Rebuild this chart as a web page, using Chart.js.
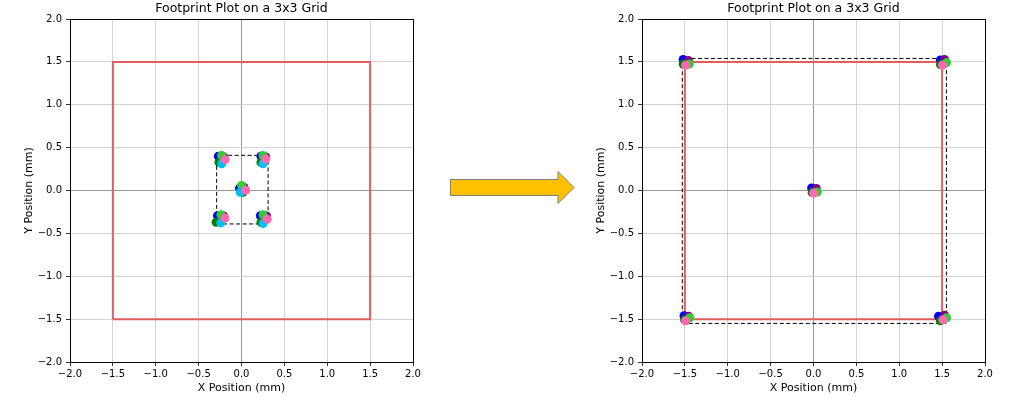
<!DOCTYPE html>
<html>
<head>
<meta charset="utf-8">
<script src="https://cdn.jsdelivr.net/npm/chart.js@4/dist/chart.umd.min.js"></script>
<style>
html,body{margin:0;padding:0;background:#fff;}
body{width:1024px;height:396px;position:relative;overflow:hidden;}
.box{position:absolute;top:0;height:396px;}
#b1{left:0;width:440px;}
#b2{left:572px;width:452px;}
#arrow{position:absolute;left:0;top:0;}
</style>
</head>
<body>
<div class="box" id="b1"><canvas id="c1"></canvas></div>
<div class="box" id="b2"><canvas id="c2"></canvas></div>
<svg id="arrow" width="1024" height="396" style="pointer-events:none">
  <polygon points="450.5,179.5 558,179.5 558,171.5 574,187.5 558,203.5 558,195.5 450.5,195.5" fill="#ffc000" stroke="#7f7f7f" stroke-width="1"/>
</svg>
<script>
// ---- data ----
const chartTitle = "Footprint Plot on a 3x3 Grid";
const xLabel = "X Position (mm)";
const yLabel = "Y Position (mm)";
const tickValues = [-2.0, -1.5, -1.0, -0.5, 0.0, 0.5, 1.0, 1.5, 2.0];

// outline square (red) - same on both plots
const squareX = [-1.5, 1.5, 1.5, -1.5, -1.5];
const squareY = [-1.5, -1.5, 1.5, 1.5, -1.5];

// dashed bounding boxes
const dashLeftX = [-0.29, 0.31, 0.31, -0.29, -0.29];
const dashLeftY = [-0.39, -0.39, 0.41, 0.41, -0.39];
const dashRightX = [-1.53, 1.55, 1.55, -1.53, -1.53];
const dashRightY = [-1.55, -1.55, 1.54, 1.54, -1.55];

// footprint dots, left plot (TL, TR, C, BL, BR)
const blueLX   = [-0.270, 0.227, -0.023, -0.280, 0.220];
const blueLY   = [0.400, 0.400, 0.027, -0.294, -0.294];
const purpleLX = [-0.207, 0.283, 0.029, -0.208, 0.292];
const purpleLY = [0.392, 0.392, 0.035, -0.298, -0.298];
const dgreenLX = [-0.263, 0.227, 0.017, -0.296, 0.228];
const dgreenLY = [0.328, 0.328, -0.021, -0.370, -0.370];
const greenLX  = [-0.231, 0.251, 0.001, -0.240, 0.252];
const greenLY  = [0.408, 0.408, 0.059, -0.282, -0.282];
const cyanLX   = [-0.231, 0.251, -0.015, -0.240, 0.252];
const cyanLY   = [0.312, 0.312, -0.021, -0.378, -0.386];
const pinkLX   = [-0.191, 0.283, 0.049, -0.192, 0.300];
const pinkLY   = [0.360, 0.368, 0.003, -0.322, -0.334];

// footprint dots, right plot (TL, TR, C, BL, BR)
const blueRX   = [-1.520, 1.480, -0.022, -1.510, 1.458];
const blueRY   = [1.528, 1.522, 0.030, -1.460, -1.466];
const purpleRX = [-1.460, 1.528, 0.032, -1.456, 1.528];
const purpleRY = [1.516, 1.528, 0.024, -1.466, -1.454];
const dgreenRX = [-1.520, 1.480, -0.016, -1.504, 1.480];
const dgreenRY = [1.474, 1.468, -0.024, -1.508, -1.520];
const greenRX  = [-1.448, 1.552, 0.044, -1.444, 1.552];
const greenRY  = [1.474, 1.492, -0.018, -1.484, -1.484];
const cyanRX   = [-1.490, 1.504, 0.002, -1.492, 1.510];
const cyanRY   = [1.470, 1.470, -0.026, -1.514, -1.504];
const pinkRX   = [-1.490, 1.504, 0.002, -1.492, 1.510];
const pinkRY   = [1.462, 1.462, -0.030, -1.520, -1.508];

// ---- helpers ----
const FONT = "'DejaVu Sans', sans-serif";
function pts(xs, ys){ return xs.map((x,i)=>({x:x, y:ys[i]})); }
function dots(xs, ys, color, order){
  return {type:'scatter', data:pts(xs,ys), backgroundColor:color, borderWidth:0,
          pointRadius:4.5, pointHoverRadius:4.5, order:order};
}
function lineDs(xs, ys, color, width, dash, order){
  return {type:'line', data:pts(xs,ys), borderColor:color, borderWidth:width, borderDash:dash,
          pointRadius:0, fill:false, tension:0, showLine:true, order:order};
}
function gridColor(ctx){
  const v = ctx.tick ? ctx.tick.value : null;
  if (v === null) return '#b0b0b0';
  if (Math.abs(v) > 1.99) return '#000000';
  if (Math.abs(v) < 1e-9) return '#808080';
  return '#c8c8c8';
}
function scaleOpts(isX){
  return {
    type:'linear', min:-2, max:2,
    afterBuildTicks: (s)=>{ s.ticks = tickValues.map(v=>({value:v})); },
    afterFit: (s)=>{ if (isX) s.height = 34; else s.width = 70; },
    ticks:{ autoSkip:false, color:'#000', font:{family:FONT, size:10},
            padding: isX ? 2 : 4,
            callback:(v)=> (v<0 ? '\u2212' : '') + Math.abs(v).toFixed(1) },
    grid:{ color:gridColor, lineWidth:(ctx)=> (ctx.tick && Math.abs(ctx.tick.value)>1.99) ? 1 : 0.8,
           tickColor:'#000', tickLength:4, tickWidth:0.8, drawTicks:true },
    border:{ display:true, color:'#000', width:1 },
    title:{ display:true, text: isX ? xLabel : yLabel, color:'#000',
            font:{family:FONT, size:11},
            padding: isX ? {top:0, bottom:1.5} : {top:23, bottom:0} }
  };
}
// title centred over the plot area
const plotTitle = {
  id:'plotTitle',
  afterDraw(chart){
    const {ctx, chartArea} = chart;
    ctx.save();
    ctx.font = "12.5px " + FONT;
    ctx.fillStyle = '#000';
    ctx.textAlign = 'center';
    ctx.textBaseline = 'middle';
    ctx.fillText(chartTitle, (chartArea.left + chartArea.right)/2, 8.5);
    ctx.restore();
  }
};
function makeChart(id, datasets, padRight){
  return new Chart(document.getElementById(id), {
    data:{ datasets:datasets },
    plugins:[plotTitle],
    options:{
      responsive:true, maintainAspectRatio:false, animation:false,
      layout:{ padding:{left:0, right:padRight, top:19, bottom:0} },
      plugins:{ legend:{display:false}, tooltip:{enabled:false}, title:{display:false} },
      scales:{ x:scaleOpts(true), y:scaleOpts(false) }
    }
  });
}

makeChart('c1', [
  lineDs(squareX, squareY, '#e35d60', 2, [], 20),
  lineDs(dashLeftX, dashLeftY, '#000', 1, [4,2.5], 19),
  dots(blueLX, blueLY, '#0000ff', 6),
  dots(purpleLX, purpleLY, '#800080', 5),
  dots(dgreenLX, dgreenLY, '#008000', 4),
  dots(greenLX, greenLY, '#33cc33', 3),
  dots(cyanLX, cyanLY, '#00c0f0', 2),
  dots(pinkLX, pinkLY, '#ff69b4', 1)
], 27);

makeChart('c2', [
  lineDs(squareX, squareY, '#e35d60', 2, [], 20),
  lineDs(dashRightX, dashRightY, '#000', 1, [4,2.5], 19),
  dots(cyanRX, cyanRY, '#00c0f0', 7),
  dots(blueRX, blueRY, '#0000ff', 6),
  dots(purpleRX, purpleRY, '#800080', 5),
  dots(dgreenRX, dgreenRY, '#008000', 4),
  dots(greenRX, greenRY, '#33cc33', 3),
  dots(pinkRX, pinkRY, '#ff69b4', 1)
], 39);
</script>
</body>
</html>
